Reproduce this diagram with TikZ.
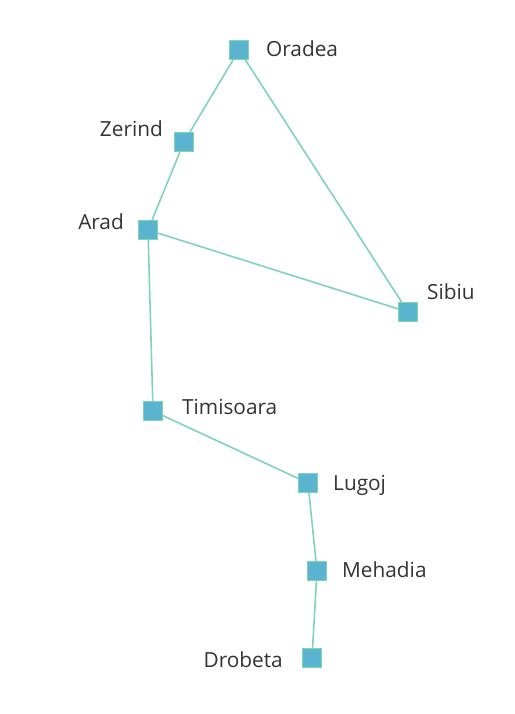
\documentclass[tikz,border=0pt]{standalone}
\usepackage{fontspec}
\setmainfont{Open Sans}
\definecolor{edgec}{HTML}{7FD4B4}
\definecolor{nodefill}{HTML}{5AB4CF}
\definecolor{txt}{HTML}{333333}
\begin{document}
\begin{tikzpicture}[x=1pt,y=-1pt,
  city/.style={rectangle,draw=edgec,fill=nodefill,line width=1pt,minimum size=19pt,inner sep=0pt},
  lbl/.style={text=txt,font=\fontsize{20.8}{24}\selectfont,inner sep=0pt},
  road/.style={draw=edgec,line width=1.6pt}]
\useasboundingbox (0,0) rectangle (514,714);
\node[city] (oradea) at (239,50) {};
\node[city] (zerind) at (184,142) {};
\node[city] (arad) at (148,230) {};
\node[city] (sibiu) at (408,312) {};
\node[city] (timisoara) at (153,411) {};
\node[city] (lugoj) at (308,483) {};
\node[city] (mehadia) at (317,571) {};
\node[city] (drobeta) at (312,658) {};
\draw[road] (oradea) -- (zerind);
\draw[road] (oradea) -- (sibiu);
\draw[road] (zerind) -- (arad);
\draw[road] (arad) -- (sibiu);
\draw[road] (arad) -- (timisoara);
\draw[road] (timisoara) -- (lugoj);
\draw[road] (lugoj) -- (mehadia);
\draw[road] (mehadia) -- (drobeta);
\node[lbl,anchor=base west] (loradea) at (266,57) {Oradea};
\node[lbl,anchor=base east] (lzerind) at (163,137) {Zerind};
\node[lbl,anchor=base east] (larad) at (124,229) {Arad};
\node[lbl,anchor=base west] (lsibiu) at (427,299) {Sibiu};
\node[lbl,anchor=base west] (ltimisoara) at (182,414) {Timisoara};
\node[lbl,anchor=base west] (llugoj) at (333,490) {Lugoj};
\node[lbl,anchor=base west] (lmehadia) at (342,577) {Mehadia};
\node[lbl,anchor=base east] (ldrobeta) at (283,667) {Drobeta};
\end{tikzpicture}
\end{document}
